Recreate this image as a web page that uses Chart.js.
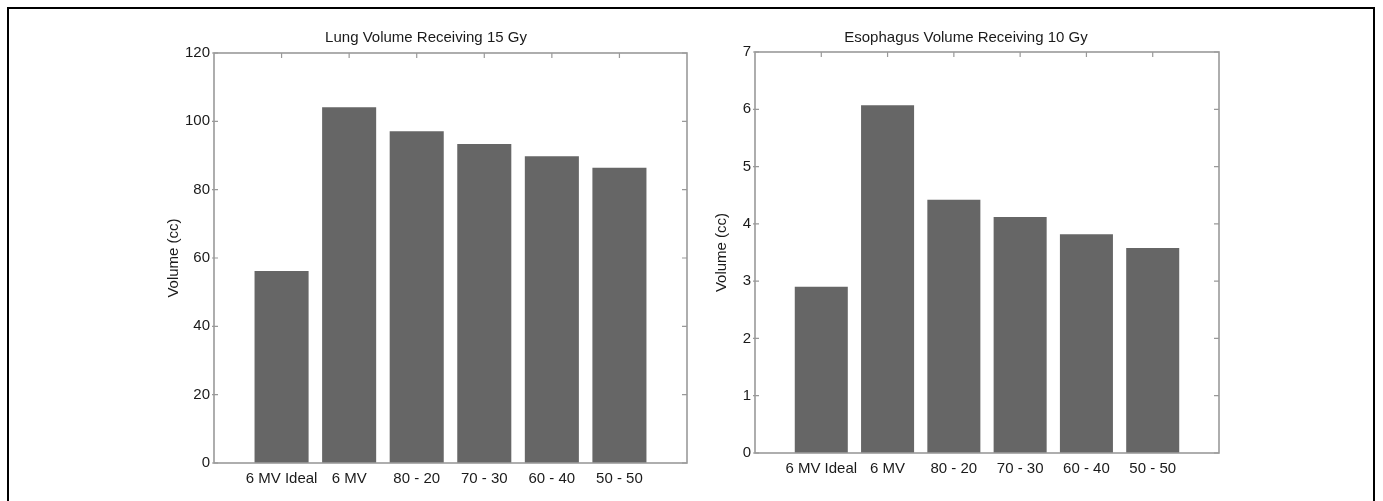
<!DOCTYPE html>
<html>
<head>
<meta charset="utf-8">
<script src="https://cdn.jsdelivr.net/npm/chart.js@4"></script>
<style>
    html, body { margin: 0; padding: 0; background: #fff; overflow: hidden; }
    body { width: 1383px; height: 501px; position: relative; }
    .frame {
        position: absolute; left: 7px; top: 7px; width: 1368px; height: 600px;
        border: 2px solid #000; box-sizing: border-box;
    }
    canvas { position: absolute; }
    #lungChart { left: 110px; top: 10px; }
    #esoChart { left: 640px; top: 10px; }
</style>
</head>
<body>
<div class="frame"></div>
<canvas id="lungChart" width="600" height="480"></canvas>
<canvas id="esoChart" width="620" height="480"></canvas>
<script>
// data
const categories = ['6 MV Ideal', '6 MV', '80 - 20', '70 - 30', '60 - 40', '50 - 50'];
const lungValues = [56.2, 104.1, 97.1, 93.4, 89.8, 86.4];
const esophagusValues = [2.9, 6.07, 4.42, 4.12, 3.82, 3.58];
const lungTicks = { min: 0, max: 120, step: 20 };
const esophagusTicks = { min: 0, max: 7, step: 1 };

(() => {
    Chart.defaults.font.family = '"Liberation Sans", Arial, Helvetica, sans-serif';
    Chart.defaults.font.size = 15;
    Chart.defaults.color = '#222';

    // MATLAB-like box and inward ticks
    const matlabTicks = {
        id: 'matlabTicks',
        beforeDatasetsDraw(chart) {
            const { ctx, chartArea: a, scales: { x, y } } = chart;
            ctx.save();
            ctx.strokeStyle = '#999';
            ctx.lineWidth = 1.2;
            ctx.beginPath();
            y.ticks.forEach(t => {
                const py = y.getPixelForValue(t.value);
                ctx.moveTo(a.left - 2, py); ctx.lineTo(a.left + 4, py);
                ctx.moveTo(a.right, py); ctx.lineTo(a.right - 5, py);
            });
            chart.data.labels.forEach((lbl, i) => {
                if (!lbl) return;
                const px = x.getPixelForTick(i);
                ctx.moveTo(px, a.top); ctx.lineTo(px, a.top + 5);
                ctx.moveTo(px, a.bottom); ctx.lineTo(px, a.bottom - 5);
            });
            ctx.stroke();
            ctx.restore();
        },
        afterDatasetsDraw(chart) {
            const { ctx, chartArea: a } = chart;
            ctx.save();
            ctx.strokeStyle = '#9a9a9a';
            ctx.lineWidth = 1.6;
            ctx.strokeRect(a.left, a.top, a.width, a.height);
            ctx.restore();
        }
    };

    const makeChart = (id, title, values, ticks, box) => new Chart(document.getElementById(id), {
        type: 'bar',
        data: {
            // empty slots at both ends give the 0..7 x range
            labels: ['', ...categories, ''],
            datasets: [{
                data: [null, ...values, null],
                backgroundColor: '#666666',
                borderWidth: 0,
                categoryPercentage: 1,
                barPercentage: 0.8
            }]
        },
        options: {
            responsive: false,
            animation: false,
            layout: { padding: { left: box.padLeft, right: box.padRight, top: 0, bottom: box.padBottom } },
            plugins: {
                legend: { display: false },
                tooltip: { enabled: false },
                title: {
                    display: true,
                    text: title,
                    color: '#1a1a1a',
                    font: { size: 15, weight: 'normal' },
                    padding: { top: 19, bottom: box.titleGap }
                }
            },
            scales: {
                x: {
                    offset: false,
                    grid: { display: false, drawTicks: false },
                    border: { display: false },
                    ticks: { autoSkip: false, maxRotation: 0, padding: 7, color: '#1a1a1a' },
                    afterFit: s => { s.height = 27; }
                },
                y: {
                    min: ticks.min,
                    max: ticks.max,
                    grid: { display: false, drawTicks: false },
                    border: { display: false },
                    ticks: { stepSize: ticks.step, padding: 4, color: '#1a1a1a' },
                    title: {
                        display: true,
                        text: 'Volume (cc)',
                        color: '#1a1a1a',
                        font: { size: 15 },
                        padding: { top: 0, bottom: 0 }
                    },
                    afterFit: s => { s.width = box.yWidth; }
                }
            }
        },
        plugins: [matlabTicks]
    });

    makeChart('lungChart', 'Lung Volume Receiving 15 Gy', lungValues, lungTicks,
        { padLeft: 55, padRight: 23, padBottom: 0, titleGap: 6, yWidth: 49 });
    makeChart('esoChart', 'Esophagus Volume Receiving 10 Gy', esophagusValues, esophagusTicks,
        { padLeft: 73, padRight: 41, padBottom: 10, titleGap: 5, yWidth: 42 });
})();
</script>
</body>
</html>
